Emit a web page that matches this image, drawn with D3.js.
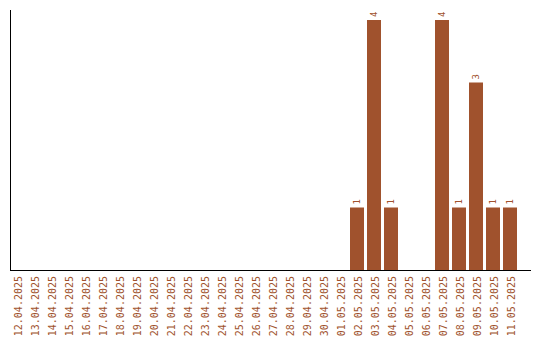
<!DOCTYPE html>
<html>
<head>
<meta charset="utf-8">
<script src="https://cdn.jsdelivr.net/npm/d3@7"></script>
<style>
  body { margin: 0; background: #fff; }
  svg text { font-family: "DejaVu Sans Mono", monospace; fill: #a0522d; }
</style>
</head>
<body>
<svg id="chart" width="540" height="340"></svg>
<script>
  const dates = [
    '12.04.2025', '13.04.2025', '14.04.2025', '15.04.2025', '16.04.2025',
    '17.04.2025', '18.04.2025', '19.04.2025', '20.04.2025', '21.04.2025',
    '22.04.2025', '23.04.2025', '24.04.2025', '25.04.2025', '26.04.2025',
    '27.04.2025', '28.04.2025', '29.04.2025', '30.04.2025', '01.05.2025',
    '02.05.2025', '03.05.2025', '04.05.2025', '05.05.2025', '06.05.2025',
    '07.05.2025', '08.05.2025', '09.05.2025', '10.05.2025', '11.05.2025'
  ];
  const counts = [
    0, 0, 0, 0, 0, 0, 0, 0, 0, 0,
    0, 0, 0, 0, 0, 0, 0, 0, 0, 0,
    1, 4, 1, 0, 0, 4, 1, 3, 1, 1
  ];
  const yMax = 4;

  const svg = d3.select('#chart');
  const margin = {top: 10, left: 10, right: 9, bottom: 70};
  const baseY = 340 - margin.bottom;

  const x = d3.scaleBand()
    .domain(dates)
    .range([margin.left, margin.left + 507])
    .paddingInner(3 / 17)
    .paddingOuter(0);

  const y = d3.scaleLinear().domain([0, yMax]).range([baseY, 20]);

  const data = dates.map((d, i) => ({date: d, value: counts[i]}));

  svg.append('g').selectAll('rect')
    .data(data.filter(d => d.value > 0))
    .join('rect')
    .attr('x', d => x(d.date))
    .attr('y', d => y(d.value))
    .attr('width', x.bandwidth())
    .attr('height', d => y(0) - y(d.value))
    .attr('fill', '#a0522d');

  // value labels, rotated
  svg.append('g').selectAll('text')
    .data(data.filter(d => d.value > 0))
    .join('text')
    .attr('transform', d => `translate(${x(d.date) + x.bandwidth() / 2},${y(d.value) - 3}) rotate(-90)`)
    .attr('dy', '0.35em')
    .style('font-size', '9px')
    .text(d => d.value);

  // x tick labels
  svg.append('g').selectAll('text')
    .data(dates)
    .join('text')
    .attr('transform', d => `translate(${x(d) + x.bandwidth() / 2 + 1},${baseY + 6}) rotate(-90)`)
    .attr('text-anchor', 'end')
    .attr('dy', '0.35em')
    .style('font-size', '10px')
    .text(d => d);

  // axis lines
  svg.append('line')
    .attr('x1', margin.left + 0.5).attr('x2', margin.left + 0.5)
    .attr('y1', margin.top).attr('y2', baseY)
    .attr('stroke', '#000');
  svg.append('line')
    .attr('x1', margin.left).attr('x2', 540 - margin.right)
    .attr('y1', baseY + 0.5).attr('y2', baseY + 0.5)
    .attr('stroke', '#000');
</script>
</body>
</html>
